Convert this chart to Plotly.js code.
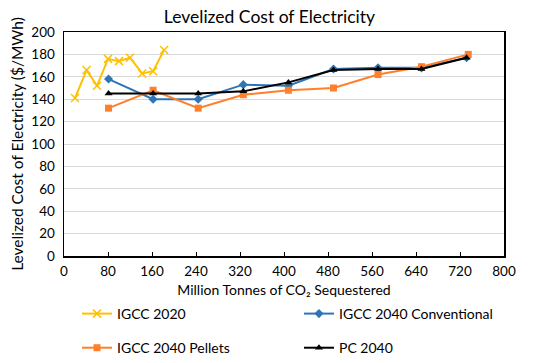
<!DOCTYPE html>
<html><head><meta charset="utf-8">
<script src="https://cdn.plot.ly/plotly-3.0.1.min.js"></script>
<style>html,body{margin:0;padding:0;background:#fff}</style>
</head><body>
<div id="chart" style="width:550px;height:363px"></div>
<script>
const seriesNames = ["IGCC 2020", "IGCC 2040 Conventional", "IGCC 2040 Pellets", "PC 2040"];
const igcc2020X = [20, 41, 60, 80, 100, 120, 142, 162, 182];
const igcc2020Y = [141, 166, 152, 176, 174, 177, 163, 165, 184];
const convX = [81, 162, 244, 326, 408, 490, 571, 650, 732];
const convY = [158, 140, 140, 153, 152, 167, 168, 168, 177];
const pelletsX = [81, 162, 244, 326, 408, 490, 571, 650, 735];
const pelletsY = [132, 148, 132, 144, 148, 150, 162, 169, 180];
const pcX = [81, 162, 244, 326, 408, 490, 571, 650, 732];
const pcY = [145, 145, 145, 147, 155, 166, 167, 167, 177];
const xTicks = [0, 80, 160, 240, 320, 400, 480, 560, 640, 720, 800];
const yTicks = [0, 20, 40, 60, 80, 100, 120, 140, 160, 180, 200];

const font = "Lato, 'Open Sans', sans-serif";
const traces = [
  {x: igcc2020X, y: igcc2020Y, name: seriesNames[0], mode: "lines+markers",
   line: {color: "#FFC000", width: 2}, marker: {symbol: "x-thin-open", size: 8, color: "#FFC000", line: {color: "#FFC000", width: 1.5}}, legend: "legend"},
  {x: convX, y: convY, name: seriesNames[1], mode: "lines+markers",
   line: {color: "#2E75B6", width: 2}, marker: {symbol: "diamond", size: 7, color: "#2E75B6"}, legend: "legend2"},
  {x: pelletsX, y: pelletsY, name: seriesNames[2], mode: "lines+markers",
   line: {color: "#FF7F2A", width: 2}, marker: {symbol: "square", size: 7, color: "#FF7F2A"}, legend: "legend3"},
  {x: pcX, y: pcY, name: seriesNames[3], mode: "lines+markers",
   line: {color: "#000000", width: 2}, marker: {symbol: "triangle-up", size: 7, color: "#000000"}, legend: "legend4"}
];
function lg(x, y) {
  return {orientation: "h", xref: "container", yref: "container", x: x, y: y, xanchor: "left", yanchor: "middle",
    font: {family: font, size: 14, color: "#000"}, bgcolor: "rgba(0,0,0,0)", itemwidth: 30};
}
const layout = {
  width: 550, height: 363,
  margin: {l: 64, r: 46, t: 32, b: 107},
  paper_bgcolor: "#fff", plot_bgcolor: "#fff",
  title: {text: "Levelized Cost of Electricity", font: {family: font, size: 17.5, color: "#000"},
    xref: "container", yref: "container", x: 0.49, xanchor: "center", y: 0.953, yanchor: "middle"},
  xaxis: {range: [0, 800], tickvals: xTicks, ticks: "inside", ticklen: 4, tickcolor: "#000",
    showgrid: false, zeroline: false, showline: true, linecolor: "#000", linewidth: 1.5, mirror: true,
    ticklabelstandoff: 2, automargin: false,
    tickfont: {family: font, size: 13.5, color: "#000"},
    title: {text: "Million Tonnes of CO₂ Sequestered", font: {family: font, size: 14, color: "#000"}}},
  yaxis: {range: [0, 200], tickvals: yTicks, ticks: "", showgrid: true, gridcolor: "#d9d9d9", gridwidth: 1,
    zeroline: false, showline: true, linecolor: "#000", linewidth: 1.5, mirror: true,
    ticklabelstandoff: 5, automargin: false,
    tickfont: {family: font, size: 13.5, color: "#000"},
    title: {text: "Levelized Cost of Electricity ($/MWh)", font: {family: font, size: 15.5, color: "#000"}}},
  legend: lg(0.14, 0.135),
  legend2: lg(0.5436, 0.135),
  legend3: lg(0.14, 0.041),
  legend4: lg(0.5436, 0.041),
  showlegend: true
};
Plotly.newPlot("chart", traces, layout, {displayModeBar: false, staticPlot: true});
</script>
</body></html>
